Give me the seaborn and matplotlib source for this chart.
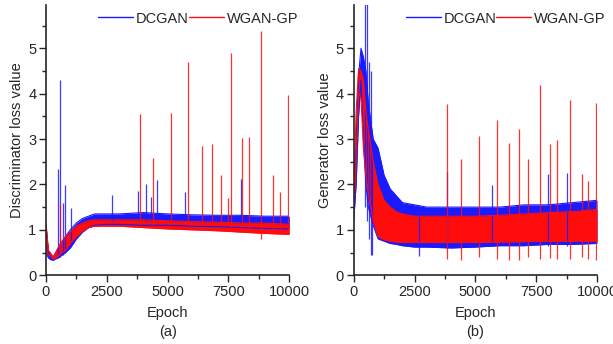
import numpy as np
import pandas as pd
import matplotlib
matplotlib.use("Agg")
import matplotlib.pyplot as plt
from matplotlib.lines import Line2D
from matplotlib.ticker import MultipleLocator
import seaborn as sns

epochs = [0, 100, 200, 300, 400, 500, 600, 800, 1000, 1250, 1500, 1750,
          2000, 2500, 3000, 4000, 5000, 6000, 7000, 8000, 9000, 10000]

# (a) discriminator loss, lower / upper edge of the noisy band
d_dcgan_lo = [0.50, 0.38, 0.34, 0.33, 0.36, 0.38, 0.42, 0.50, 0.60, 0.80, 0.95, 1.05,
              1.10, 1.12, 1.12, 1.10, 1.10, 1.08, 1.07, 1.05, 1.03, 1.02]
d_dcgan_hi = [1.10, 0.50, 0.42, 0.40, 0.50, 0.60, 0.70, 0.85, 1.00, 1.15, 1.25, 1.30,
              1.35, 1.35, 1.35, 1.38, 1.35, 1.33, 1.32, 1.32, 1.30, 1.30]
d_wgan_lo = [0.55, 0.45, 0.42, 0.35, 0.38, 0.42, 0.48, 0.55, 0.70, 0.85, 0.97, 1.05,
             1.08, 1.08, 1.08, 1.05, 1.02, 1.00, 0.98, 0.95, 0.92, 0.90]
d_wgan_hi = [1.15, 0.55, 0.48, 0.40, 0.50, 0.60, 0.70, 0.85, 0.95, 1.08, 1.15, 1.20,
             1.22, 1.22, 1.22, 1.22, 1.20, 1.18, 1.17, 1.15, 1.15, 1.12]

# (b) generator loss
g_dcgan_lo = [1.20, 2.00, 3.50, 4.30, 3.00, 2.00, 1.50, 1.10, 0.80, 0.75, 0.70, 0.68,
              0.65, 0.62, 0.62, 0.60, 0.62, 0.65, 0.65, 0.68, 0.68, 0.70]
g_dcgan_hi = [1.60, 3.00, 4.40, 5.00, 4.80, 4.50, 3.80, 3.00, 2.80, 2.20, 1.90, 1.75,
              1.60, 1.55, 1.50, 1.50, 1.50, 1.50, 1.55, 1.55, 1.60, 1.65]
g_wgan_lo = [1.30, 2.50, 4.00, 3.90, 2.80, 2.20, 1.80, 1.20, 0.85, 0.78, 0.75, 0.73,
             0.72, 0.72, 0.72, 0.72, 0.72, 0.73, 0.74, 0.75, 0.75, 0.75]
g_wgan_hi = [1.80, 3.60, 4.55, 4.50, 4.30, 3.60, 3.20, 2.50, 2.00, 1.65, 1.50, 1.40,
             1.35, 1.30, 1.30, 1.30, 1.30, 1.32, 1.35, 1.38, 1.40, 1.45]

# isolated spikes: epoch, bottom, top
d_dcgan_spk_x = [506, 588, 700, 794, 1027, 2726, 3795, 4096, 4315, 4548, 5726, 8000]
d_dcgan_spk_lo = [0.40, 0.40, 0.45, 0.50, 0.70, 1.20, 1.20, 1.20, 1.20, 1.20, 1.20, 1.20]
d_dcgan_spk_hi = [2.35, 4.29, 1.58, 1.98, 1.47, 1.76, 1.85, 2.00, 1.72, 2.09, 1.83, 2.11]

d_wgan_spk_x = [560, 3877, 4385, 5120, 5850, 6425, 6836, 7180, 7480, 7617, 8056, 8357,
                8840, 9343, 9630, 9946]
d_wgan_spk_lo = [0.45, 1.10, 1.10, 1.10, 1.10, 1.10, 1.10, 1.10, 1.10, 1.05, 1.05, 1.05,
                 0.80, 1.00, 1.00, 1.00]
d_wgan_spk_hi = [1.58, 3.55, 2.58, 3.58, 4.69, 2.84, 2.88, 2.21, 1.70, 4.89, 3.03, 3.04,
                 5.37, 2.20, 1.83, 3.96]

g_dcgan_spk_x = [470, 560, 620, 700, 760, 2700, 3830, 5680, 7990, 8770]
g_dcgan_spk_lo = [1.50, 1.20, 0.80, 0.45, 0.45, 0.42, 0.60, 0.65, 0.65, 0.65]
g_dcgan_spk_hi = [6.00, 6.00, 4.70, 4.50, 3.00, 1.50, 2.27, 1.98, 2.24, 2.25]

g_wgan_spk_x = [3840, 4390, 5140, 5880, 6400, 6810, 7180, 7640, 8050, 8350, 8870, 9370,
                9640, 9940]
g_wgan_spk_lo = [0.35, 0.33, 0.40, 0.35, 0.33, 0.33, 0.40, 0.35, 0.38, 0.35, 0.35, 0.40,
                 0.35, 0.33]
g_wgan_spk_hi = [3.78, 2.57, 3.06, 3.41, 2.91, 3.22, 2.57, 4.20, 2.90, 2.97, 3.87, 2.22,
                 2.07, 3.79]

BLUE = "#1a1aff"
RED = "#ff0d0d"

sns.set_style("ticks")
plt.rcParams["font.family"] = ["Liberation Sans", "DejaVu Sans"]
plt.rcParams["font.size"] = 10


def draw_series(ax, lo, hi, spk_x, spk_lo, spk_hi, color):
    df = pd.DataFrame({"epoch": epochs, "lo": lo, "hi": hi})
    ax.fill_between(df["epoch"], df["lo"], df["hi"], color=color, lw=0)
    sns.lineplot(data=df, x="epoch", y="hi", ax=ax, color=color, lw=0.8)
    sns.lineplot(data=df, x="epoch", y="lo", ax=ax, color=color, lw=0.8)
    ax.vlines(spk_x, spk_lo, spk_hi, color=color, lw=0.9, alpha=0.85)


def style_axes(ax, ylabel, tag):
    ax.set_xlim(0, 10000)
    ax.set_ylim(0, 5.95)
    ax.xaxis.set_major_locator(MultipleLocator(2500))
    ax.xaxis.set_minor_locator(MultipleLocator(1250))
    ax.yaxis.set_major_locator(MultipleLocator(1))
    ax.yaxis.set_minor_locator(MultipleLocator(0.5))
    ax.tick_params(which="major", length=5, width=1, labelsize=10.5, pad=2)
    ax.tick_params(which="minor", length=3, width=1)
    for s in ["top", "right"]:
        ax.spines[s].set_visible(False)
    for s in ["left", "bottom"]:
        ax.spines[s].set_linewidth(1.2)
    ax.set_xlabel("Epoch", fontsize=10.5, labelpad=5)
    ax.set_ylabel(ylabel, fontsize=10.5, labelpad=3)
    ax.text(0.5, -0.212, tag, transform=ax.transAxes, ha="center", va="center",
            fontsize=10.5)
    handles = [Line2D([], [], color=BLUE, lw=1), Line2D([], [], color=RED, lw=1)]
    ax.legend(handles, ["DCGAN", "WGAN-GP"], loc="upper right", ncol=2,
              frameon=False, handlelength=2.4, handletextpad=0.2,
              columnspacing=0.0, fontsize=10.5, bbox_to_anchor=(1.09, 1.025))


fig = plt.figure(figsize=(6.13, 3.44), dpi=100)
ax1 = fig.add_axes([0.075, 0.200, 0.397, 0.785])
ax2 = fig.add_axes([0.577, 0.200, 0.397, 0.785])

draw_series(ax1, d_dcgan_lo, d_dcgan_hi, d_dcgan_spk_x, d_dcgan_spk_lo, d_dcgan_spk_hi, BLUE)
draw_series(ax1, d_wgan_lo, d_wgan_hi, d_wgan_spk_x, d_wgan_spk_lo, d_wgan_spk_hi, RED)
style_axes(ax1, "Discriminator loss value", "(a)")

draw_series(ax2, g_dcgan_lo, g_dcgan_hi, g_dcgan_spk_x, g_dcgan_spk_lo, g_dcgan_spk_hi, BLUE)
draw_series(ax2, g_wgan_lo, g_wgan_hi, g_wgan_spk_x, g_wgan_spk_lo, g_wgan_spk_hi, RED)
style_axes(ax2, "Generator loss value", "(b)")

fig.savefig("out.png", dpi=100)
